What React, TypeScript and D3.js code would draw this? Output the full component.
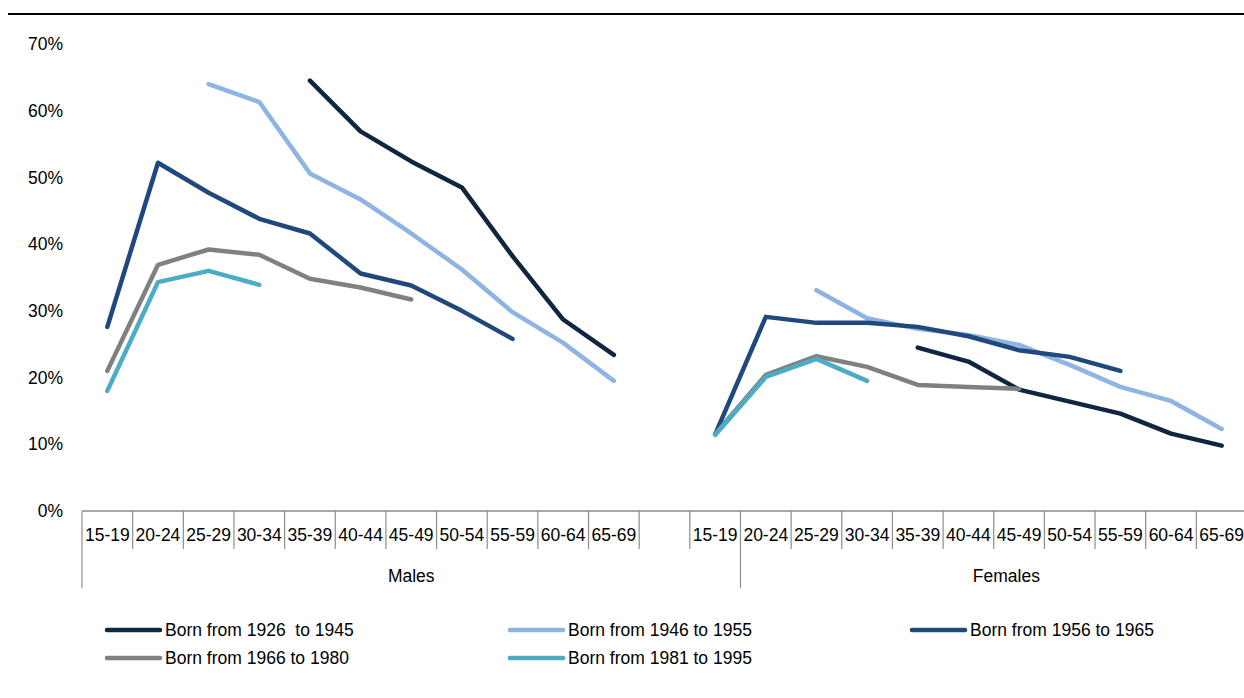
import React from "react";
import * as d3 from "d3";

const ageGroups = ["15-19","20-24","25-29","30-34","35-39","40-44","45-49","50-54","55-59","60-64","65-69"];
const genders = ["Males", "Females"];
const yTicks = [0, 0.1, 0.2, 0.3, 0.4, 0.5, 0.6, 0.7];

const seriesNames = [
  "Born from 1926  to 1945",
  "Born from 1946 to 1955",
  "Born from 1956 to 1965",
  "Born from 1966 to 1980",
  "Born from 1981 to 1995",
];
const seriesColors = ["#10253F", "#8EB4E3", "#1F497D", "#808080", "#4BACC6"];

// values in %, null = no data (males 11 values, females 11 values)
const born1926Males = [null, null, null, null, 64.5, 56.9, 52.4, 48.5, 38.2, 28.7, 23.4];
const born1926Females = [null, null, null, null, 24.5, 22.4, 18.2, 16.4, 14.6, 11.6, 9.8];
const born1946Males = [null, null, 64.0, 61.3, 50.6, 46.7, 41.6, 36.2, 29.8, 25.2, 19.5];
const born1946Females = [null, null, 33.1, 28.9, 27.3, 26.4, 24.9, 21.9, 18.6, 16.5, 12.3];
const born1956Males = [27.6, 52.2, 47.7, 43.8, 41.6, 35.6, 33.8, 30.0, 25.8, null, null];
const born1956Females = [11.5, 29.1, 28.2, 28.2, 27.6, 26.2, 24.1, 23.1, 21.0, null, null];
const born1966Males = [21.0, 36.9, 39.2, 38.4, 34.8, 33.5, 31.7, null, null, null, null];
const born1966Females = [11.5, 20.4, 23.2, 21.6, 18.9, 18.6, 18.3, null, null, null, null];
const born1981Males = [18.0, 34.3, 36.0, 33.9, null, null, null, null, null, null, null];
const born1981Females = [11.4, 20.1, 22.8, 19.5, null, null, null, null, null, null, null];

const seriesMales = [born1926Males, born1946Males, born1956Males, born1966Males, born1981Males];
const seriesFemales = [born1926Females, born1946Females, born1956Females, born1966Females, born1981Females];

const W = 1244, H = 698;
const FONT = "'Liberation Sans', Arial, sans-serif";
const FS = 17.5;

export default function App() {
  // 11 male + 1 blank + 11 female categories
  const cats: string[] = [
    ...ageGroups.map((a) => "M" + a),
    "blank",
    ...ageGroups.map((a) => "F" + a),
  ];
  const labels: string[] = [...ageGroups, "", ...ageGroups];
  const x = d3.scaleBand<string>().domain(cats).range([82, 1247]).paddingInner(0).paddingOuter(0);
  const bw = x.bandwidth();
  const y = d3.scaleLinear().domain([0, 0.7]).range([511, 44]);

  const series = seriesMales.map((m, i) => [...m, null, ...seriesFemales[i]]);
  const line = d3
    .line<number | null>()
    .defined((d) => d !== null)
    .x((_, i) => (x(cats[i]) as number) + bw / 2)
    .y((d) => y((d as number) / 100));

  const axisY = y(0);
  const boundaries = d3.range(cats.length + 1).map((i) => 82 + i * bw);
  const longIdx = [0, 13];
  const groupSpans = [
    [0, 13],
    [13, 23.5],
  ];

  return (
    <svg width={W} height={H} style={{ position: "absolute", left: 0, top: 0, background: "#fff" }} fontFamily={FONT}>
      <line x1={8} x2={W} y1={14} y2={14} stroke="#000" strokeWidth={2} />
      {yTicks.map((t) => (
        <text key={t} x={63} y={y(t)} dy="0.35em" textAnchor="end" fontSize={FS} fill="#000">
          {d3.format(".0%")(t)}
        </text>
      ))}
      <line x1={82} x2={W} y1={axisY} y2={axisY} stroke="#8c8c8c" strokeWidth={1.5} />
      {boundaries.map((bx, i) => (
        <line
          key={i}
          x1={bx}
          x2={bx}
          y1={axisY}
          y2={longIdx.includes(i) ? 588 : 549}
          stroke="#8c8c8c"
          strokeWidth={1.2}
        />
      ))}
      {labels.map((l, i) =>
        l ? (
          <text key={i} x={(x(cats[i]) as number) + bw / 2} y={535} dy="0.35em" textAnchor="middle" fontSize={FS} fill="#000">
            {l}
          </text>
        ) : null
      )}
      {genders.map((g, i) => (
        <text
          key={g}
          x={82 + ((groupSpans[i][0] + groupSpans[i][1]) / 2) * bw}
          y={576}
          dy="0.35em"
          textAnchor="middle"
          fontSize={FS}
          fill="#000"
        >
          {g}
        </text>
      ))}
      {series.map((s, i) => (
        <path
          key={i}
          d={line(s) || ""}
          fill="none"
          stroke={seriesColors[i]}
          strokeWidth={4.5}
          strokeLinecap="round"
          strokeLinejoin="round"
        />
      ))}
      {seriesNames.map((n, i) => {
        const col = i % 3;
        const row = Math.floor(i / 3);
        const lx = [107, 510, 912][col];
        const ly = 630 + row * 28;
        return (
          <g key={n}>
            <line x1={lx} x2={lx + 53} y1={ly} y2={ly} stroke={seriesColors[i]} strokeWidth={4.5} strokeLinecap="round" />
            <text x={lx + 58} y={ly} dy="0.35em" fontSize={FS} fill="#000" style={{ whiteSpace: "pre" }}>
              {n}
            </text>
          </g>
        );
      })}
    </svg>
  );
}
